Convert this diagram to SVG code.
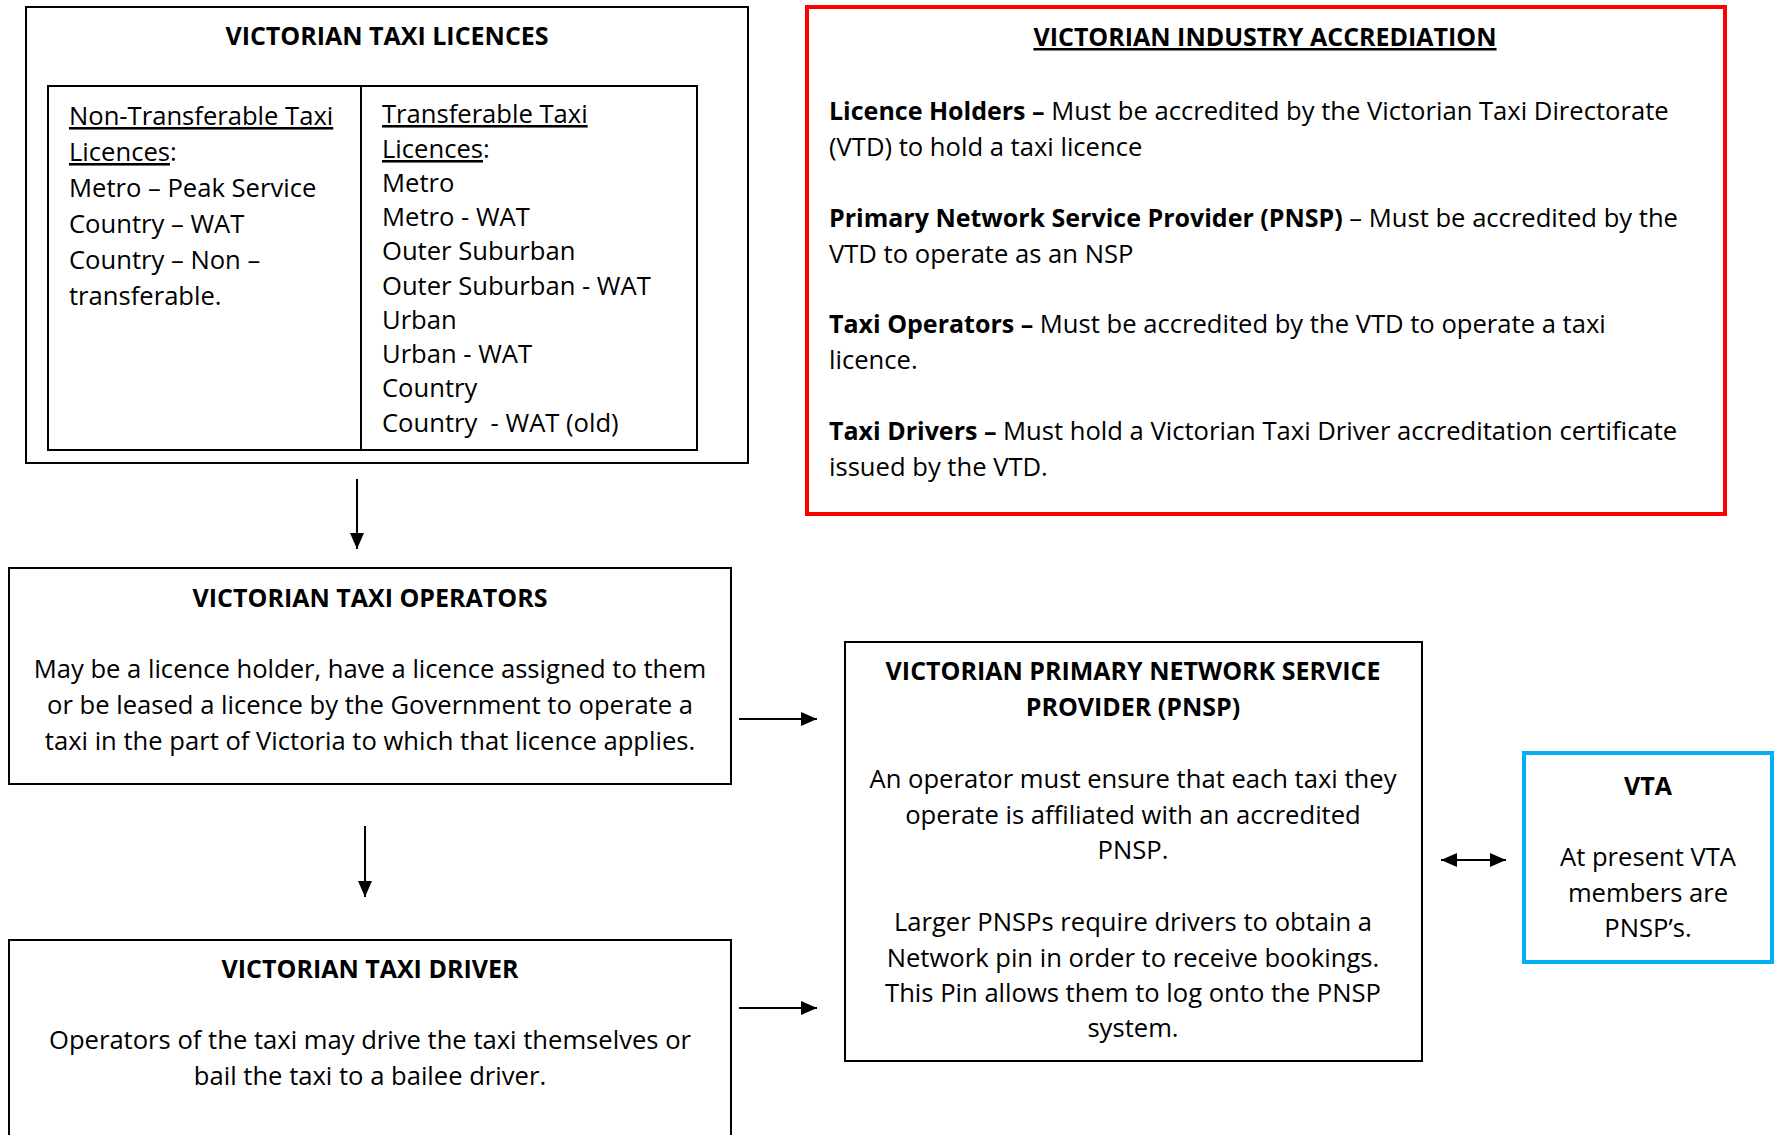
<svg xmlns="http://www.w3.org/2000/svg" width="1779" height="1135" viewBox="0 0 1779 1135">
<style>
  .box { fill: #fff; stroke: #000; stroke-width: 2; }
  .red { fill: #fff; stroke: #ff0000; stroke-width: 4; }
  .blue { fill: #fff; stroke: #00b0f0; stroke-width: 4; }
  text { font-family: "Open Sans", "Liberation Sans", sans-serif; fill: #000; }
  .t { font-size: 25px; font-weight: bold; text-anchor: middle; }
  .b { font-size: 25.6px; }
  .c { text-anchor: middle; }
  .u { text-decoration: underline; }
  .bold { font-weight: bold; font-size: 25px; }
  .pre { white-space: pre; }
  .conn { stroke: #000; stroke-width: 2; fill: none; }
</style>
<defs>
  <marker id="ah" markerUnits="userSpaceOnUse" markerWidth="17" markerHeight="14" refX="16" refY="7" orient="auto-start-reverse">
    <path d="M0,0 L16,7 L0,14 Z" fill="#000"/>
  </marker>
</defs>
<rect x="0" y="0" width="1779" height="1135" fill="#fff"/>

<g id="licences">
  <rect class="box" x="26" y="7" width="722" height="456"/>
  <text class="t" x="387" y="45">VICTORIAN TAXI LICENCES</text>
  <rect class="box" x="48" y="86" width="649" height="364"/>
  <line class="conn" x1="361" y1="86" x2="361" y2="450"/>
  <text class="b" x="69" y="125"><tspan class="u">Non-Transferable Taxi</tspan></text>
  <text class="b" x="69" y="161"><tspan class="u">Licences</tspan>:</text>
  <text class="b" x="69" y="197">Metro – Peak Service</text>
  <text class="b" x="69" y="233">Country – WAT</text>
  <text class="b" x="69" y="269">Country – Non –</text>
  <text class="b" x="69" y="305">transferable.</text>
  <text class="b" x="382" y="123"><tspan class="u">Transferable Taxi</tspan></text>
  <text class="b" x="382" y="158"><tspan class="u">Licences</tspan>:</text>
  <text class="b" x="382" y="192">Metro</text>
  <text class="b" x="382" y="226">Metro - WAT</text>
  <text class="b" x="382" y="260">Outer Suburban</text>
  <text class="b" x="382" y="295">Outer Suburban - WAT</text>
  <text class="b" x="382" y="329">Urban</text>
  <text class="b" x="382" y="363">Urban - WAT</text>
  <text class="b" x="382" y="397">Country</text>
  <text class="b pre" x="382" y="432">Country  - WAT (old)</text>
</g>

<g id="accreditation">
  <rect class="red" x="807" y="7" width="918" height="507"/>
  <text class="t u" x="1265" y="46">VICTORIAN INDUSTRY ACCREDIATION</text>
  <text class="b" x="829" y="120"><tspan class="bold">Licence Holders –</tspan> Must be accredited by the Victorian Taxi Directorate</text>
  <text class="b" x="829" y="156">(VTD) to hold a taxi licence</text>
  <text class="b" x="829" y="227"><tspan class="bold">Primary Network Service Provider (PNSP)</tspan> – Must be accredited by the</text>
  <text class="b" x="829" y="263">VTD to operate as an NSP</text>
  <text class="b" x="829" y="333"><tspan class="bold">Taxi Operators –</tspan> Must be accredited by the VTD to operate a taxi</text>
  <text class="b" x="829" y="369">licence.</text>
  <text class="b" x="829" y="440"><tspan class="bold">Taxi Drivers –</tspan> Must hold a Victorian Taxi Driver accreditation certificate</text>
  <text class="b" x="829" y="476">issued by the VTD.</text>
</g>

<g id="operators">
  <rect class="box" x="9" y="568" width="722" height="216"/>
  <text class="t" x="370" y="607">VICTORIAN TAXI OPERATORS</text>
  <text class="b c" x="370" y="678">May be a licence holder, have a licence assigned to them</text>
  <text class="b c" x="370" y="714">or be leased a licence by the Government to operate a</text>
  <text class="b c" x="370" y="750">taxi in the part of Victoria to which that licence applies.</text>
</g>

<g id="driver">
  <rect class="box" x="9" y="940" width="722" height="210"/>
  <text class="t" x="370" y="978">VICTORIAN TAXI DRIVER</text>
  <text class="b c" x="370" y="1049">Operators of the taxi may drive the taxi themselves or</text>
  <text class="b c" x="370" y="1085">bail the taxi to a bailee driver.</text>
</g>

<g id="pnsp">
  <rect class="box" x="845" y="642" width="577" height="419"/>
  <text class="t" x="1133" y="680">VICTORIAN PRIMARY NETWORK SERVICE</text>
  <text class="t" x="1133" y="716">PROVIDER (PNSP)</text>
  <text class="b c" x="1133" y="788">An operator must ensure that each taxi they</text>
  <text class="b c" x="1133" y="824">operate is affiliated with an accredited</text>
  <text class="b c" x="1133" y="859">PNSP.</text>
  <text class="b c" x="1133" y="931">Larger PNSPs require drivers to obtain a</text>
  <text class="b c" x="1133" y="967">Network pin in order to receive bookings.</text>
  <text class="b c" x="1133" y="1002">This Pin allows them to log onto the PNSP</text>
  <text class="b c" x="1133" y="1037">system.</text>
</g>

<g id="vta">
  <rect class="blue" x="1524" y="753" width="248" height="209"/>
  <text class="t" x="1648" y="795">VTA</text>
  <text class="b c" x="1648" y="866">At present VTA</text>
  <text class="b c" x="1648" y="902">members are</text>
  <text class="b c" x="1648" y="937">PNSP’s.</text>
</g>

<g id="connectors">
  <line class="conn" x1="357" y1="479" x2="357" y2="549" marker-end="url(#ah)"/>
  <line class="conn" x1="365" y1="826" x2="365" y2="897" marker-end="url(#ah)"/>
  <line class="conn" x1="739" y1="719" x2="817" y2="719" marker-end="url(#ah)"/>
  <line class="conn" x1="739" y1="1008" x2="817" y2="1008" marker-end="url(#ah)"/>
  <line class="conn" x1="1441" y1="860" x2="1506" y2="860" marker-start="url(#ah)" marker-end="url(#ah)"/>
</g>
</svg>
